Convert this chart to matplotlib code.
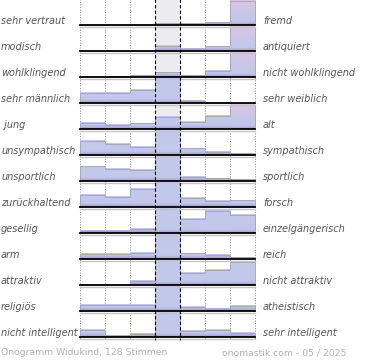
import numpy as np
import matplotlib
matplotlib.use("Agg")
import matplotlib.pyplot as plt
from matplotlib import transforms

# ---------------- data ----------------
left_labels = ["sehr vertraut", "modisch", "wohlklingend", "sehr männlich", " jung",
               "unsympathisch", "unsportlich", "zurückhaltend", "gesellig", "arm",
               "attraktiv", "religiös", "nicht intelligent"]
right_labels = ["fremd", "antiquiert", "nicht wohlklingend", "sehr weiblich", "alt",
                "sympathisch", "sportlich", "forsch", "einzelgängerisch", "reich",
                "nicht attraktiv", "atheistisch", "sehr intelligent"]
# relative bar heights (percent of the tallest bar), 7 answer classes per row
values = [
    [0, 0, 0, 8, 6, 12, 100],
    [0, 0, 0, 21, 10, 20, 100],
    [0, 2, 8, 20, 8, 26, 100],
    [44, 44, 54, 100, 10, 1, 0],
    [25, 17, 24, 50, 29, 54, 100],
    [58, 46, 36, 100, 28, 14, 8],
    [61, 51, 46, 100, 18, 12, 8],
    [50, 42, 75, 100, 38, 25, 28],
    [11, 11, 17, 100, 58, 92, 75],
    [21, 21, 25, 100, 24, 17, 8],
    [0, 0, 17, 100, 50, 62, 96],
    [26, 25, 25, 100, 18, 10, 22],
    [29, 7, 14, 100, 25, 29, 17],
]
footer_left = "Onogramm Widukind, 128 Stimmen"
footer_right = "onomastik.com - 05 / 2025"

# ---------------- style ----------------
W, H = 370, 360
ROW_PX = 26.0
MAX_FRAC = 24.3 / 26.0
blue = np.array([0xc2, 0xc8, 0xea]) / 255
pink = np.array([0xdc, 0xc4, 0xe6]) / 255
purple = np.array([0xa4, 0x96, 0xcc]) / 255
label_color = "#555555"
foot_color = "#b0b0b0"

fig = plt.figure(figsize=(W / 100, H / 100), dpi=100)
nrows = len(values)
ncols = len(values[0])
ax_h_px = nrows * ROW_PX
ax = fig.add_axes([80 / W, (H - 337.3) / H, 175 / W, ax_h_px / H])
ax.set_axis_off()

mid = ncols // 2
# middle column background
ax.axvspan(mid, mid + 1, ymin=0, ymax=1, color="#ececf0", zorder=0, lw=0)
# dotted separators
for e in range(ncols + 1):
    if e in (mid, mid + 1):
        continue
    ax.plot([e, e], [0, nrows + 0.1], ls=(0, (1, 1.6)), color="#8a8a8a", lw=0.7,
            zorder=1, clip_on=False)

for i, row in enumerate(values):
    base = i + 1
    vals = np.array(row, dtype=float)
    hs = vals / 100.0 * MAX_FRAC
    rmax = vals.max()
    for j, h in enumerate(hs):
        if h <= 0:
            continue
        n = 60
        h_px = h * ROW_PX
        d = h_px * (1 - (np.arange(n) + 0.5) / n)  # px above baseline, top row first
        col = np.tile(blue, (n, 1))
        if vals[j] == rmax and j != mid:
            f = np.clip((d - 0.3 * 24) / (0.7 * 24), 0, 1)[:, None]
            col = col * (1 - f) + pink * f
        g = np.clip(1 - d / 3.5, 0, 1)[:, None]
        col = col * (1 - g) + purple * g
        img = col[:, None, :]
        ax.imshow(img, extent=(j, j + 1, base, base - h), aspect="auto",
                  interpolation="bilinear", origin="upper", zorder=2)
    ax.stairs(base - hs, np.arange(ncols + 1), baseline=base, fill=False,
              color="#a4a4ae", lw=0.6, zorder=3, clip_on=False)
    # baseline + shadow
    ax.plot([0, ncols], [base + 1.6 / ROW_PX] * 2, color="#c4c4c4", lw=1.0,
            zorder=3.5, clip_on=False)
    ax.plot([0, ncols], [base, base], color="black", lw=1.3, zorder=4,
            clip_on=False)

for e in (mid, mid + 1):
    ax.plot([e, e], [0, nrows + 0.1], ls=(0, (3, 2)), color="black", lw=0.8,
            zorder=5, clip_on=False)

ax.set_xlim(0, ncols)
ax.set_ylim(nrows, 0)

tr = transforms.blended_transform_factory(fig.transFigure, ax.transData)
for i in range(nrows):
    y = i + 1 - 1.4 / ROW_PX
    ax.text(1 / W, y, left_labels[i], transform=tr, ha="left", va="baseline",
            fontsize=7, style="italic", color=label_color, family="DejaVu Sans")
    ax.text(263 / W, y, right_labels[i], transform=tr, ha="left", va="baseline",
            fontsize=7, style="italic", color=label_color, family="DejaVu Sans")

fig.text(1 / W, (H - 355) / H, footer_left, ha="left", va="baseline",
         fontsize=6.7, color=foot_color, family="DejaVu Sans")
fig.text(346 / W, (H - 355) / H, footer_right, ha="right", va="baseline",
         fontsize=6.7, color=foot_color, family="DejaVu Sans")

fig.savefig("out.png", dpi=100, facecolor="white")
